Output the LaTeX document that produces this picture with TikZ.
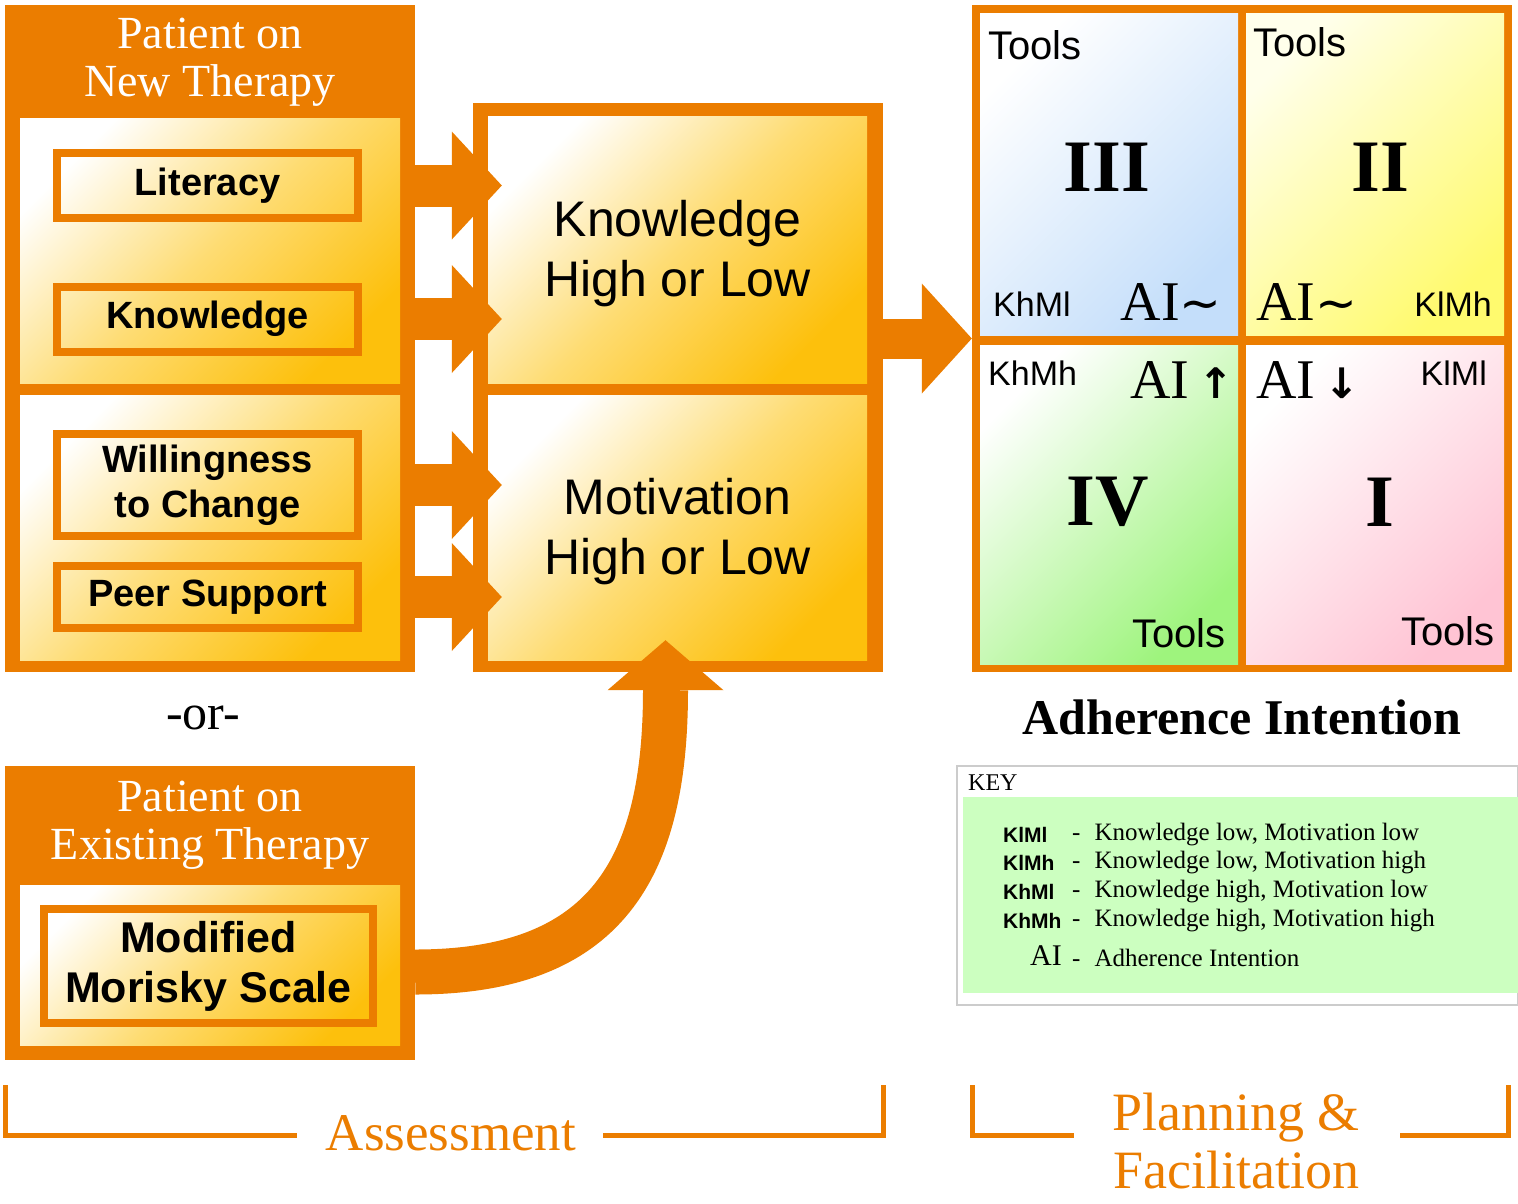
\documentclass[tikz,border=0pt]{standalone}
\usepackage{fontspec}
\setmainfont{Liberation Serif}
\setsansfont{Liberation Sans}
\newfontfamily\symfont{DejaVu Sans}
\usepackage{tikz}
\usetikzlibrary{arrows.meta, positioning, calc}
\pgfdeclarelayer{background}
\pgfsetlayers{background,main}
\definecolor{orangeA}{RGB}{235,125,0}
\definecolor{goldM}{RGB}{254,220,115}
\definecolor{goldB}{RGB}{253,192,12}
\definecolor{blueQ}{RGB}{196,222,250}
\definecolor{yellowQ}{RGB}{255,250,110}
\definecolor{greenQ}{RGB}{158,244,125}
\definecolor{pinkQ}{RGB}{255,196,212}
\definecolor{keygreen}{RGB}{204,255,192}
\tikzstyle{frame}      = [rectangle, fill=orangeA, inner sep=0pt]
\tikzstyle{panel}      = [rectangle, inner sep=0pt, top color=white, bottom color=goldB, middle color=goldM, shading angle=45]
\tikzstyle{factor}     = [rectangle, draw=orangeA, line width=8pt, inner sep=0pt, align=center, font=\sffamily\bfseries\fontsize{38}{45}\selectfont]
\tikzstyle{header}     = [align=center, text=white, font=\fontsize{46}{48}\selectfont]
\tikzstyle{result}     = [align=center, font=\sffamily\fontsize{50}{60}\selectfont]
\tikzstyle{quad}       = [rectangle, inner sep=0pt, minimum width=258pt]
\tikzstyle{numeral}    = [font=\bfseries\fontsize{74}{74}\selectfont]
\tikzstyle{tools}      = [inner sep=0pt, font=\sffamily\fontsize{40}{40}\selectfont]
\tikzstyle{code}       = [inner sep=0pt, font=\sffamily\fontsize{34}{34}\selectfont]
\tikzstyle{ai}         = [inner sep=0pt, font=\fontsize{56}{56}\selectfont]
\tikzstyle{keycode}    = [inner sep=0pt, anchor=west, font=\sffamily\bfseries\fontsize{21}{21}\selectfont]
\tikzstyle{keytext}    = [inner sep=0pt, anchor=west, font=\fontsize{25}{25}\selectfont]
\tikzstyle{blockarrow} = [orangeA, line width=42pt, -{Triangle[length=50pt, width=108pt, line width=0pt]}]
\tikzstyle{bracket}    = [orangeA, line width=5pt]
\tikzstyle{phase}      = [align=center, text=orangeA, font=\fontsize{54}{58}\selectfont]
\begin{document}
\begin{tikzpicture}[x=1pt, y=-1pt]
\useasboundingbox (0,0) rectangle (1518,1203);
	\begin{pgfonlayer}{background}
	\node (newbox) [frame, minimum width=410pt, minimum height=667pt] at (210,338.5) {};
	\node (midbox) [frame, minimum width=410pt, minimum height=569pt] at (678,387.5) {};
	\node (grid) [frame, minimum width=540pt, minimum height=667pt] at (1242,338.5) {};
	\node (oldbox) [frame, minimum width=410pt, minimum height=294pt] at (210,913) {};
	\end{pgfonlayer}
	% assessment side
	\node (newhead) [header] at (210,62) {Patient on\\New Therapy};
	\node (panelA) [panel, minimum width=380pt, minimum height=265pt] at (210,250.5) {};
	\node (panelB) [panel, minimum width=380pt, minimum height=265pt] at (210,527.5) {};
	\node (lit) [factor, minimum width=301pt, minimum height=65pt] at (207.5,185.5) {Literacy};
	\node (know) [factor, minimum width=301pt, minimum height=65pt] at (207.5,319) {Knowledge};
	\node (will) [factor, minimum width=301pt, minimum height=102pt] at (207.5,485) {Willingness\\to Change};
	\node (peer) [factor, minimum width=301pt, minimum height=62pt] at (207.5,597) {Peer Support};
	\node (kpanel) [panel, minimum width=379pt, minimum height=267pt] at (677.5,249.5) {};
	\node (mpanel) [panel, minimum width=379pt, minimum height=265pt] at (677.5,527.5) {};
	\node (kres) [result, yshift=-4pt] at (kpanel) {Knowledge\\High or Low};
	\node (mres) [result, yshift=-4pt] at (mpanel) {Motivation\\High or Low};
	\node (or) [font=\fontsize{50}{50}\selectfont] at (203,718) {-or-};
	\node (oldhead) [header] at (210,825) {Patient on\\Existing Therapy};
	\node (oldpanel) [panel, minimum width=380pt, minimum height=160pt] at (210,965) {};
	\node (mms) [factor, minimum width=329pt, minimum height=114pt, font=\sffamily\bfseries\fontsize{43}{50}\selectfont] at (208.5,966) {Modified\\Morisky Scale};

	\draw [blockarrow] (newbox.east |- lit) -- ($(kpanel.west |- lit)+(14,0)$);
	\draw [blockarrow] (newbox.east |- know) -- ($(kpanel.west |- know)+(14,0)$);
	\draw [blockarrow] (newbox.east |- will) -- ($(mpanel.west |- will)+(14,0)$);
	\draw [blockarrow] (newbox.east |- peer) -- ($(mpanel.west |- peer)+(14,0)$);
	\draw [orangeA, line width=45pt, -{Triangle[length=50pt, width=116pt, line width=0pt]}] ($(oldbox.east |- mms)+(0,6)$) .. controls +(190,0) and +(0,230) .. ($(mpanel.south)+(-12,-20)$);
	\draw [orangeA, line width=40pt, -{Triangle[length=50pt, width=110pt, line width=0pt]}] (midbox.east |- grid.west) -- (grid.west);

	% planning side
	\node (q3) [quad, minimum height=322pt, top color=white, bottom color=blueQ, shading angle=45] at (1109,174) {};
	\node (q2) [quad, minimum height=322pt, top color=yellow!8, bottom color=yellowQ, shading angle=45] at (1375,174) {};
	\node (q4) [quad, minimum height=319pt, top color=white, bottom color=greenQ, shading angle=45] at (1109,504.5) {};
	\node (q1) [quad, minimum height=319pt, top color=white, bottom color=pinkQ, shading angle=45] at (1375,504.5) {};

	\node (t3) [tools, anchor=west] at (988,45) {Tools};
	\node (n3) [numeral] at (1107,167) {III};
	\node (c3) [code, anchor=west] at (993,304) {KhMl};
	\node (a3) [ai, anchor=east] at (1222,302) {AI{\symfont\fontsize{50}{50}\selectfont ∼}};

	\node (t2) [tools, anchor=west] at (1253,42) {Tools};
	\node (n2) [numeral] at (1380,167) {II};
	\node (a2) [ai, anchor=west] at (1256,302) {AI{\symfont\fontsize{50}{50}\selectfont ∼}};
	\node (c2) [code, anchor=east] at (1492,304) {KlMh};

	\node (c4) [code, anchor=west] at (988,373) {KhMh};
	\node (a4) [ai, anchor=west] at (1130,380) {AI\,{\symfont\bfseries\fontsize{42}{42}\selectfont ↑}};
	\node (n4) [numeral] at (1108,502) {IV};
	\node (t4) [tools, anchor=east] at (1226,633) {Tools};

	\node (a1) [ai, anchor=west] at (1256,380) {AI\,{\symfont\bfseries\fontsize{42}{42}\selectfont ↓}};
	\node (c1) [code, anchor=east] at (1487,373) {KlMl};
	\node (n1) [numeral] at (1380,502) {I};
	\node (t1) [tools, anchor=east] at (1495,631) {Tools};

	\node (adh) [font=\bfseries\fontsize{50}{50}\selectfont] at (1242,717) {Adherence Intention};

	% key
	\node (key) [draw=black!20, line width=1.5pt, minimum width=561pt, minimum height=239pt, inner sep=0pt] at (1237.5,885.5) {};
	\node (keyfill) [fill=keygreen, minimum width=555pt, minimum height=196pt, inner sep=0pt] at (1240.5,895) {};
	\node (keyhead) [inner sep=0pt, anchor=west, font=\fontsize{24}{24}\selectfont] at (968,783) {KEY};
	\node (k1) [keycode] at (1003,835) {KlMl};
	\node (k2) [keycode] at (1003,863) {KlMh};
	\node (k3) [keycode] at (1003,892) {KhMl};
	\node (k4) [keycode] at (1003,921) {KhMh};
	\node (k5) [inner sep=0pt, anchor=west, font=\fontsize{30}{30}\selectfont] at (1030,956) {AI};
	\node (d1) [keytext] at (1072,835) {-\hspace{14pt}Knowledge low, Motivation low};
	\node (d2) [keytext] at (1072,863) {-\hspace{14pt}Knowledge low, Motivation high};
	\node (d3) [keytext] at (1072,892) {-\hspace{14pt}Knowledge high, Motivation low};
	\node (d4) [keytext] at (1072,921) {-\hspace{14pt}Knowledge high, Motivation high};
	\node (d5) [keytext] at (1072,958) {-\hspace{14pt}Adherence Intention};

	% phases
	\node (assess) [phase, font=\fontsize{53}{53}\selectfont] at (451,1133) {Assessment};
	\draw [bracket] (5,1085) |- (297,1135);
	\draw [bracket] (883,1085) |- (603,1135);
	\node (plan) [phase] at (1236,1141) {Planning \&\\Facilitation};
	\draw [bracket] (972,1085) |- (1074,1135);
	\draw [bracket] (1508,1085) |- (1400,1135);
\end{tikzpicture}
\end{document}
